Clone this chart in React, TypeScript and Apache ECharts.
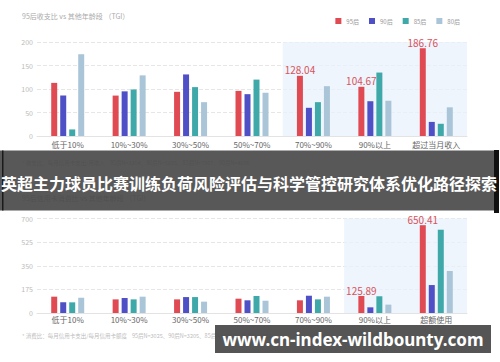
import React, { useEffect, useRef } from "react";
import * as echarts from "echarts";

const legendNames = ["95后", "90后", "85后", "80后"];
const barColors = ["#e04b53", "#4f4fc6", "#3fa9a9", "#a9c5d7"];

const topCategories = ["低于10%", "10%~30%", "30%~50%", "50%~70%", "70%~90%", "90%以上", "超过当月收入"];
const top95 = [113, 86, 94, 96, 128.04, 104.67, 186.76];
const top90 = [86, 95, 131, 89, 60, 74, 30];
const top85 = [14, 99, 104, 120, 72, 135, 26];
const top80 = [174, 129, 72, 92, 106, 75, 61];
const topYMax = 200;
const topYInterval = 50;
const topHighlight = ["70%~90%", "超过当月收入"];

const bottomCategories = ["低于10%", "10%~30%", "30%~50%", "50%~70%", "70%~90%", "90%以上", "超额使用"];
const bottom95 = [121, 101, 101, 106, 94, 125.89, 650.41];
const bottom90 = [79, 111, 118, 94, 128, 42, 207];
const bottom85 = [79, 101, 118, 126, 101, 124, 617];
const bottom80 = [113, 121, 84, 91, 121, 62, 311];
const bottomYMax = 700;
const bottomYInterval = 175;
const bottomHighlight = ["90%以上", "超额使用"];

const topTitle = "95后收支比 vs 其他年龄段 （TGI）";
const topNote = "* 收支比：每月信用卡支出/月收入    95后N=3304、90后N=5655、85后N=7967、80后N=4686";
const bottomTitle = "95后信用卡消费比 vs 其他年龄段 （TGI）";
const bottomNote = "* 消费比：每月信用卡支出/每月信用卡额度    95后N=3025、90后N=3205、85后N=3557、80后N=2101";
const bannerText = "英超主力球员比赛训练负荷风险评估与科学管控研究体系优化路径探索";
const urlText = "www.cn-index-wildbounty.com";

const FONT = "'Noto Sans CJK SC', 'Noto Sans', sans-serif";

function makeSeries(gridIdx: number, values: number[], idx: number, cats: string[], highlight: string[]) {
  const isMain = idx === 0;
  const startIdx = cats.indexOf(highlight[0]);
  return {
    type: "bar",
    name: legendNames[idx],
    xAxisIndex: gridIdx,
    yAxisIndex: gridIdx,
    barWidth: 6,
    barGap: "50%",
    itemStyle: { color: barColors[idx] },
    data: values.map((v, i) => (isMain && i >= startIdx ? { value: v, label: { show: true } } : v)),
    label: {
      show: false,
      position: "top",
      distance: 1,
      color: "#d9535c",
      fontSize: 10,
      fontFamily: FONT,
      formatter: (p: any) => Number(p.value).toFixed(2),
    },
    markArea: isMain
      ? {
          silent: true,
          itemStyle: { color: "rgba(232,242,252,0.75)" },
          data: [[{ xAxis: highlight[0] }, { xAxis: highlight[1] }]],
        }
      : undefined,
  };
}

function makeXAxis(gridIndex: number, data: string[], margin: number) {
  return {
    type: "category",
    gridIndex,
    data,
    axisTick: { show: false },
    axisLine: { lineStyle: { color: "#e3e3e3" } },
    axisLabel: { interval: 0, fontSize: 8, color: "#666", margin, fontFamily: FONT },
  };
}

function makeYAxis(gridIndex: number, max: number, interval: number) {
  return {
    type: "value",
    gridIndex,
    min: 0,
    max,
    interval,
    axisLine: { show: false },
    axisTick: { show: false },
    axisLabel: { fontSize: 7, color: "#bbb", margin: 4, fontFamily: FONT },
    splitLine: { lineStyle: { color: "#e6e6e6", type: "dashed" } },
  };
}

export default function App() {
  const ref = useRef<HTMLDivElement>(null);
  useEffect(() => {
    if (!ref.current) return;
    const chart = echarts.init(ref.current, undefined, { renderer: "svg" });
    const tops = [top95, top90, top85, top80];
    const bottoms = [bottom95, bottom90, bottom85, bottom80];
    chart.setOption({
      animation: false,
      backgroundColor: "#fff",
      textStyle: { fontFamily: FONT },
      legend: {
        data: legendNames,
        right: 35,
        top: 13,
        icon: "rect",
        itemWidth: 6,
        itemHeight: 6,
        itemGap: 10,
        textStyle: { fontSize: 6, color: "#999", fontFamily: FONT },
      },
      grid: [
        { left: 37, width: 430, top: 42, height: 94 },
        { left: 37, width: 430, top: 218.5, height: 94.5 },
      ],
      xAxis: [makeXAxis(0, topCategories, 4), makeXAxis(1, bottomCategories, 2)],
      yAxis: [makeYAxis(0, topYMax, topYInterval), makeYAxis(1, bottomYMax, bottomYInterval)],
      series: [
        ...tops.map((v, i) => makeSeries(0, v, i, topCategories, topHighlight)),
        ...bottoms.map((v, i) => makeSeries(1, v, i, bottomCategories, bottomHighlight)),
      ],
      graphic: [
        {
          type: "text",
          x: 22,
          y: 16,
          style: { text: topTitle, fill: "#aaa", fontSize: 7, fontFamily: FONT, textVerticalAlign: "middle" },
        },
        {
          type: "text",
          x: 22,
          y: 163,
          style: { text: topNote, fill: "#bbb", fontSize: 5.5, fontFamily: FONT, textVerticalAlign: "middle" },
        },
        {
          type: "text",
          x: 22,
          y: 198,
          style: { text: bottomTitle, fill: "#aaa", fontSize: 7, fontFamily: FONT, textVerticalAlign: "middle" },
        },
        {
          type: "text",
          x: 22,
          y: 336,
          style: { text: bottomNote, fill: "#bbb", fontSize: 5.5, fontFamily: FONT, textVerticalAlign: "middle" },
        },
        {
          type: "rect",
          z: 100,
          shape: { x: 0, y: 150.5, width: 494, height: 60 },
          style: { fill: "rgba(70,70,70,0.9)" },
        },
        {
          type: "rect",
          z: 101,
          shape: { x: 2, y: 150.5, width: 1.5, height: 60 },
          style: { fill: "#1a1a1a" },
        },
        {
          type: "rect",
          z: 101,
          shape: { x: 494, y: 150, width: 5, height: 63 },
          style: { fill: "#111" },
        },
        {
          type: "text",
          z: 102,
          x: 249,
          y: 183,
          style: {
            text: bannerText,
            fill: "#fff",
            fontSize: 16,
            fontWeight: "bold",
            fontFamily: FONT,
            textAlign: "center",
            textVerticalAlign: "middle",
          },
        },
        {
          type: "rect",
          z: 100,
          shape: { x: 215, y: 325, width: 276, height: 28 },
          style: { fill: "rgba(70,70,70,0.92)" },
        },
        {
          type: "text",
          z: 102,
          x: 353,
          y: 339,
          style: {
            text: urlText,
            fill: "#fff",
            fontSize: 17,
            fontWeight: "bold",
            fontFamily: "'Noto Sans', sans-serif",
            textAlign: "center",
            textVerticalAlign: "middle",
          },
        },
      ],
    });
    return () => chart.dispose();
  }, []);
  return <div ref={ref} style={{ position: "absolute", left: 0, top: 0, width: 500, height: 362 }} />;
}
